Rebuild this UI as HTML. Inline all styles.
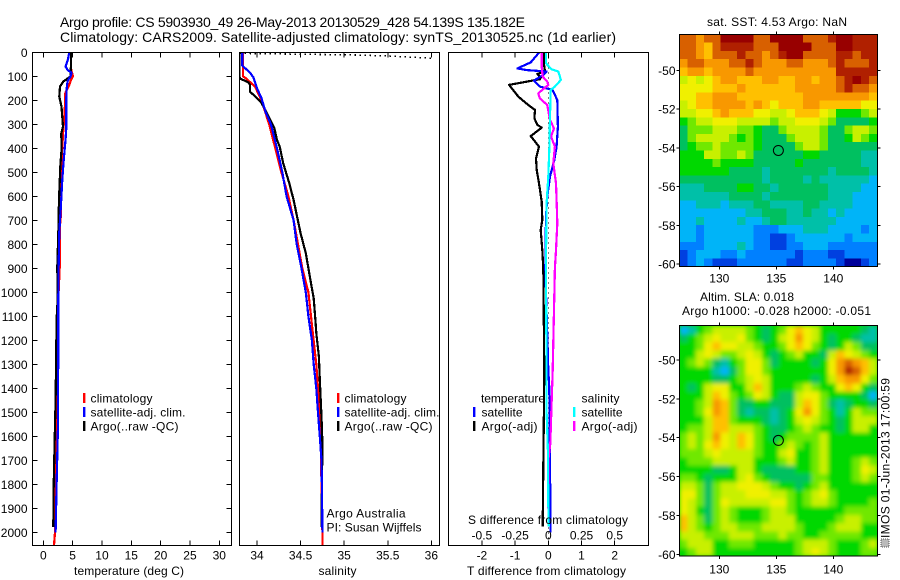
<!DOCTYPE html>
<html lang="en">
<head>
<meta charset="utf-8">
<title>Argo profile 5903930_49</title>
<style>
html,body{margin:0;padding:0;background:#fff;width:900px;height:580px;overflow:hidden}
svg{display:block}
text{font-family:"Liberation Sans",sans-serif;font-size:12px;fill:#000}
</style>
</head>
<body>
<svg id="fig" xmlns="http://www.w3.org/2000/svg" width="900" height="580" viewBox="0 0 900 580">
  <defs>
    <clipPath id="clipMap1"><rect x="679.3" y="34.3" width="198" height="232.4"/></clipPath>
    <clipPath id="clipMap2"><rect x="679.3" y="325.7" width="198" height="230.3"/></clipPath>
    <clipPath id="clipP1"><rect x="32.3" y="52.3" width="199" height="493"/></clipPath>
    <clipPath id="clipP2"><rect x="239.3" y="52.3" width="200" height="493"/></clipPath>
    <clipPath id="clipP3"><rect x="448.3" y="52.3" width="200" height="493"/></clipPath>
    <filter id="soft" filterUnits="userSpaceOnUse" x="640" y="290" width="260" height="290"><feGaussianBlur stdDeviation="2"/></filter>
  </defs>

  <text x="60" y="27" font-size="14" style="font-size:14px" textLength="465" lengthAdjust="spacing">Argo profile: CS 5903930_49 26-May-2013 20130529_428 54.139S 135.182E</text>
  <text x="60" y="42" style="font-size:14px" textLength="556" lengthAdjust="spacing">Climatology: CARS2009. Satellite-adjusted climatology: synTS_20130525.nc (1d earlier)</text>

  <g id="map1" clip-path="url(#clipMap1)"></g>
  <g clip-path="url(#clipMap2)">
    <rect x="679.3" y="325.7" width="198" height="230.3" fill="#00d800"/>
    <g id="map2" filter="url(#soft)"></g>
  </g>

  <g id="p1" clip-path="url(#clipP1)"></g>
  <g id="p2" clip-path="url(#clipP2)"></g>
  <g id="p3" clip-path="url(#clipP3)"></g>
  <g id="axes"></g>

  <g>
    <rect x="83" y="393" width="2.4" height="10" fill="#f00"/>
    <text x="90.5" y="402.5" textLength="62">climatology</text>
    <rect x="83" y="407" width="2.4" height="10" fill="#00f"/>
    <text x="90.5" y="416.5" textLength="95">satellite-adj. clim.</text>
    <rect x="83" y="421" width="2.4" height="10" fill="#000"/>
    <text x="90.5" y="430.5" textLength="88">Argo(..raw -QC)</text>
  </g>
  <g>
    <rect x="337" y="393" width="2.4" height="10" fill="#f00"/>
    <text x="344.5" y="402.5" textLength="62">climatology</text>
    <rect x="337" y="407" width="2.4" height="10" fill="#00f"/>
    <text x="344.5" y="416.5" textLength="95">satellite-adj. clim.</text>
    <rect x="337" y="421" width="2.4" height="10" fill="#000"/>
    <text x="344.5" y="430.5" textLength="88">Argo(..raw -QC)</text>
  </g>
  <text x="326.5" y="517.5" textLength="79">Argo Australia</text>
  <text x="326.5" y="531.5" textLength="95">PI: Susan Wijffels</text>

  <g>
    <text x="481" y="402.5" textLength="64">temperature</text>
    <rect x="473" y="407" width="2.4" height="10" fill="#00f"/>
    <text x="481.5" y="416.5" textLength="41">satellite</text>
    <rect x="473" y="421" width="2.4" height="10" fill="#000"/>
    <text x="481.5" y="430.5" textLength="56">Argo(-adj)</text>
    <text x="581.5" y="402.5" textLength="38">salinity</text>
    <rect x="573" y="407" width="2.4" height="10" fill="#0ff"/>
    <text x="581.5" y="416.5" textLength="41">satellite</text>
    <rect x="573" y="421" width="2.4" height="10" fill="#f0f"/>
    <text x="581.5" y="430.5" textLength="56">Argo(-adj)</text>
  </g>

  <text x="468" y="524" textLength="160">S difference from climatology</text>
  <text x="74" y="575" textLength="110">temperature (deg C)</text>
  <text x="318.5" y="575" textLength="38">salinity</text>
  <text x="467" y="575" textLength="159">T difference from climatology</text>

  <text x="707" y="26" textLength="140">sat. SST: 4.53 Argo: NaN</text>
  <text x="700" y="301" textLength="94">Altim. SLA: 0.018</text>
  <text x="682" y="315" textLength="189">Argo h1000: -0.028 h2000: -0.051</text>

  <rect x="881" y="539" width="8" height="8" fill="#bbb" stroke="#555" stroke-width="1" stroke-dasharray="1 1"/>
  <text transform="translate(889.5,538) rotate(-90)" x="0" y="0" textLength="160">IMOS 01-Jun-2013 17:00:59</text>
</svg>

<script>
// ---------- profile data (depth in m; values in axis units) ----------
const tempClimDepth = [0,60,75,100,115,140,170,250,330,400,500,680,720,870,1000,1100,1400,1700,2000,2054];
const tempClimValue = [4.7,4.7,4.77,5.06,4.7,4.37,3.75,3.64,3.4,3.22,3.0,3.0,2.84,2.84,2.6,2.56,2.45,2.2,2.0,1.82];
const tempArgoDepth = [0,100,122,143,185,226,310,337,407,476,615,754,893,1032,1115,1449,1628,1824,1978];
const tempArgoValue = [4.77,4.66,3.4,2.84,2.73,3.1,3.35,3.07,3.1,2.9,2.67,2.56,2.39,2.44,2.27,2.1,1.93,1.76,1.7];
const tempSatDepth = [0,30,60,75,85,100,120,150,200,320,360,450,530,640,750,900,1030,1115,1550,1800,2000];
const tempSatValue = [4.43,4.2,3.8,4.2,4.83,4.66,4.15,3.98,3.9,3.9,3.8,3.47,3.24,3.0,2.73,2.6,2.56,2.56,2.5,2.27,2.1];

const salClimDepth = [0,100,110,145,200,300,400,500,600,700,800,900,1000,1100,1300,1400,1600,2000,2054];
const salClimValue = [33.84,33.84,33.88,33.98,34.05,34.14,34.21,34.28,34.36,34.42,34.47,34.52,34.59,34.62,34.68,34.7,34.73,34.75,34.75];
const salArgoDepth = [0,105,110,125,135,165,180,210,280,317,365,393,462,546,615,685,754,837,962,1025,1115,1170,1268,1365,1519,1628,1978];
const salArgoValue = [33.8,33.8,33.81,33.9,33.92,33.92,33.97,34.05,34.15,34.2,34.23,34.26,34.3,34.37,34.42,34.46,34.5,34.56,34.62,34.65,34.67,34.68,34.71,34.72,34.74,34.75,34.74];
const salSatDepth = [0,55,65,85,105,150,190,250,300,400,500,600,700,800,900,1000,1100,1200,1300,1400,1500,1600,1700,1800,2000];
const salSatValue = [33.83,33.83,33.86,33.92,33.96,34.0,34.05,34.1,34.16,34.23,34.29,34.34,34.42,34.455,34.51,34.56,34.59,34.63,34.65,34.68,34.7,34.72,34.74,34.745,34.75];
const salDotDepth = [4,8,11,15,25];
const salDotValue = [33.8,34.49,35.07,35.49,36.02];

const diffTArgoDepth = [0,50,80,90,105,112,136,185,220,240,275,302,314,349,393,442,490,546,622,699,740,824,900,1324,1463,1726,1976];
const diffTArgoValue = [-0.13,-0.13,-0.1,-0.33,-0.23,-0.25,-1.18,-0.9,-0.6,-0.4,-0.42,-0.33,-0.2,-0.53,-0.28,-0.37,-0.35,-0.28,-0.2,-0.18,-0.23,-0.18,-0.15,-0.12,-0.13,-0.15,-0.17];
const diffTSatDepth = [0,42,67,74,80,94,118,143,157,199,310,393,449,518,601,685,900,1324,1400,2000];
const diffTSatValue = [-0.27,-0.53,-0.93,-0.65,-0.05,-0.15,-0.43,-0.25,0.13,0.27,0.29,0.25,0.18,0.05,-0.03,-0.07,-0.09,0,0.03,0.07];
const diffSArgoDepth = [0,60,101,122,136,171,192,219,282,317,351,393,463,546,629,713,824,900,1324,1463,1630,1700,1900];
const diffSArgoValue = [-0.05,-0.05,-0.043,-0.008,0,-0.075,-0.063,-0.008,0.013,0.043,0.02,0.05,0.038,0.058,0.063,0.068,0.058,0.05,0.033,0.025,0.015,0,0];
const diffSSatDepth = [0,46,71,80,115,143,157,268,393,518,629,900,1324,1500,1660,1880,1976];
const diffSSatValue = [-0.018,-0.018,0.025,0.075,0.095,0.05,0.018,0.013,0.008,0,-0.013,-0.018,-0.013,-0.013,-0.003,0,0.003];

// ---------- tick labels ----------
const depthTicks = [0,100,200,300,400,500,600,700,800,900,1000,1100,1200,1300,1400,1500,1600,1700,1800,1900,2000];
const tempTicks = [0,5,10,15,20,25,30];
const salTicks = [34,34.5,35,35.5,36];
const diffTTicks = [-2,-1,0,1,2];
const diffSTicks = [-0.5,-0.25,0,0.25,0.5];
const diffSLabels = ['-0.5','-0.25','0','0.25','0.5'];
const lonTicks = [130,135,140];
const latTicks = [-50,-52,-54,-56,-58,-60];
const argoLon = [135.182];
const argoLat = [-54.139];

// ---------- heatmap level colours ----------
const levelColors = ['#00009a','#0040e0','#0080ff','#00b4f8','#00c0a8','#00c060','#00d800','#70e800','#c8f000','#f0f000','#ffc000','#f89800','#d86000','#b02000','#980000'];

// ---------- SST map levels (rows north to south) ----------
const sstRows = [
[12,12,11,12,12,14,14,14,14,12,12,14,14,14,14,12,12,12,13,14,14,13,13,13],
[12,12,11,10,12,13,13,13,13,12,12,12,14,14,14,14,12,12,12,14,14,13,13,13],
[12,12,11,10,12,12,12,13,12,12,11,12,13,14,14,12,12,12,12,13,13,12,13,13],
[11,12,12,11,11,11,12,12,13,12,11,11,11,12,12,11,11,11,12,13,12,12,12,13],
[10,11,11,10,11,11,11,11,12,11,11,11,11,11,11,11,11,11,11,13,13,13,13,13],
[8,9,8,9,10,11,11,10,10,10,11,11,10,10,11,11,10,11,11,12,13,14,13,12],
[9,9,9,9,10,10,10,11,10,10,10,10,10,10,11,11,11,11,11,12,13,12,12,11],
[9,9,10,10,11,11,11,10,10,10,10,10,10,10,10,11,11,11,11,11,11,11,11,10],
[8,9,10,10,11,11,11,11,10,11,10,9,10,10,10,11,11,10,10,10,10,10,9,9],
[8,8,9,9,10,11,10,10,10,9,9,8,8,9,10,10,10,9,8,6,6,6,7,8],
[6,7,8,8,9,9,9,8,8,8,8,7,8,8,9,9,9,8,7,5,5,5,5,6],
[5,7,7,7,8,8,8,7,7,6,5,5,7,8,8,8,8,7,5,5,7,8,8,7],
[5,7,8,8,8,8,7,6,7,6,5,5,5,7,8,8,8,7,5,5,6,8,7,6],
[5,6,7,7,8,7,7,7,7,6,5,5,5,5,7,8,8,7,5,5,5,5,5,5],
[6,6,6,8,8,7,7,8,7,5,5,5,5,5,5,6,6,5,5,5,5,5,4,4],
[6,6,6,6,7,6,6,6,6,5,5,5,5,5,6,5,5,5,5,5,5,5,4,4],
[6,6,6,6,6,6,5,5,5,5,4,5,5,5,5,5,5,5,4,5,5,5,5,4],
[5,5,5,5,5,5,5,5,5,5,4,5,5,5,5,4,5,4,4,4,4,4,4,3],
[4,4,4,5,5,5,5,6,6,5,5,4,5,5,5,5,5,5,4,4,4,4,3,3],
[4,4,4,4,4,4,5,5,5,5,4,5,5,5,5,5,5,5,4,4,4,3,3,3],
[3,3,4,4,4,3,4,4,4,5,5,4,4,4,4,5,5,4,4,4,4,3,3,3],
[3,3,3,3,3,3,3,3,4,4,5,5,5,4,4,5,4,4,3,4,3,3,3,3],
[3,3,4,3,3,3,3,4,3,3,4,5,5,4,4,4,4,4,4,3,3,3,3,3],
[3,3,2,3,3,3,3,3,3,2,2,2,3,3,3,4,4,4,3,3,3,3,2,3],
[3,3,2,3,3,3,3,3,3,2,2,1,1,2,3,3,3,3,3,3,2,3,3,3],
[2,2,2,3,3,3,3,4,3,2,2,1,1,2,2,3,3,3,2,2,2,2,2,2],
[1,2,3,3,3,2,2,3,2,2,2,2,2,2,1,2,2,2,1,1,2,2,2,2],
[1,2,3,2,1,1,1,2,2,2,2,2,2,1,1,2,2,2,2,1,0,0,1,2]
];

// ---------- SLA map levels (rows north to south) ----------
const slaRows = [
[3,4,6,7,8,8,8,8,7,6,5,6,7,9,10,9,8,6,6,6,6,6,5,4],
[5,6,7,8,9,8,8,9,7,6,5,6,8,9,11,9,8,6,5,6,6,5,4,4],
[6,6,7,9,10,9,9,8,8,7,6,6,7,9,10,9,7,6,5,6,8,7,5,5],
[6,6,8,9,8,7,7,8,9,8,6,5,6,7,8,6,6,5,8,10,9,8,7,6],
[6,7,8,7,5,4,6,7,9,9,7,5,6,6,6,6,5,6,9,11,12,11,10,8],
[6,6,6,6,4,3,5,7,9,9,7,6,6,6,6,6,6,6,9,11,13,12,10,8],
[6,6,6,6,5,5,6,7,8,9,8,6,6,6,6,6,5,6,8,10,11,11,9,7],
[6,5,6,8,9,9,6,6,8,10,8,6,6,6,7,8,7,6,6,9,10,9,6,5],
[6,6,6,8,10,9,7,6,7,9,8,6,5,5,8,9,9,7,6,6,6,6,5,3],
[6,6,7,8,11,10,7,5,5,6,6,5,5,5,8,10,9,7,5,4,5,6,6,5],
[6,6,7,9,11,10,7,5,4,5,5,4,5,6,9,11,9,7,6,4,6,8,7,7],
[6,6,6,8,10,10,7,6,6,6,5,4,5,6,8,9,8,7,6,5,6,8,8,8],
[6,7,7,8,10,10,8,8,8,7,6,5,5,6,7,8,7,6,6,5,6,8,8,6],
[7,8,7,8,11,9,8,10,9,7,6,5,6,7,7,7,7,8,6,6,6,6,6,6],
[7,8,7,9,10,9,8,10,9,7,6,6,7,8,7,6,7,8,6,6,6,6,6,6],
[7,7,7,8,9,8,8,8,8,7,6,6,8,9,6,6,7,8,6,6,6,6,6,6],
[6,7,7,7,8,8,8,8,8,6,6,6,7,8,6,6,7,8,6,6,6,7,8,7],
[6,6,6,6,5,5,6,8,8,6,5,5,5,5,6,6,7,8,6,6,6,7,9,8],
[7,7,6,5,6,6,6,8,9,7,6,5,5,5,5,5,7,7,6,6,6,7,8,7],
[8,8,7,5,7,8,8,9,9,9,8,7,6,6,5,6,7,8,6,6,6,6,6,6],
[9,9,7,5,7,8,8,8,9,9,9,8,8,7,6,7,8,9,7,6,6,6,6,6],
[9,8,7,5,7,9,8,8,8,8,8,9,9,7,6,7,8,8,7,6,6,6,6,7],
[9,8,6,5,7,8,7,6,6,6,7,8,8,7,6,6,6,6,6,6,7,7,7,7],
[10,8,7,5,7,8,7,6,6,6,7,8,8,8,6,6,6,6,6,7,8,8,7,7],
[10,8,7,6,7,8,8,7,7,7,8,8,8,8,7,6,6,6,7,8,8,8,6,6],
[8,8,8,7,7,7,8,8,8,7,7,7,8,7,7,6,6,7,7,7,7,7,6,6],
[7,8,8,8,6,6,7,7,7,6,6,6,6,6,7,8,8,8,7,6,6,6,7,8],
[6,7,8,8,6,6,6,6,6,6,6,6,6,6,7,8,9,8,7,6,6,6,7,7]
];

// ---------- axis functions ----------
const NS = 'http://www.w3.org/2000/svg';
const PANEL_TOP = 52.3, PANEL_BOTTOM = 545.3;
function yDepth(d){ return PANEL_TOP + d * 0.24; }
function xTemp(t){ return 43.3 + t * 5.867; }
function xSal(s){ return 257 + (s - 34) * 87.17; }
function xDiffT(t){ return 548.3 + t * 33.2; }
function xDiffS(s){ return xDiffT(s * 4); }
function xLon(lon){ return 719.3 + (lon - 130) * 11.4; }
function yLat1(lat){ return 70.3 + (-50 - lat) * 19.37; }
function yLat2(lat){ return 360 + (-50 - lat) * 19.43; }

function add(parent, tag, attrs, name){
  const el = document.createElementNS(NS, tag);
  for (const k in attrs) el.setAttribute(k, attrs[k]);
  
  
  parent.appendChild(el);
  return el;
}
function drawSeries(parent, depths, values, xf, color, name, width){
  const pts = depths.map((d, i) => xf(values[i]).toFixed(1) + ',' + yDepth(d).toFixed(1)).join(' ');
  return add(parent, 'polyline', {points: pts, fill: 'none', stroke: color, 'stroke-width': width || 2.2, 'shape-rendering': 'crispEdges', 'stroke-linejoin': 'round'}, name);
}
function tick(x1, y1, x2, y2, name){
  add(axesG, 'line', {x1: x1, y1: y1, x2: x2, y2: y2, stroke: '#000', 'stroke-width': 1, 'shape-rendering': 'crispEdges'}, name);
}
function label(x, y, str, anchor, name){
  const t = add(axesG, 'text', {x: x, y: y, 'text-anchor': anchor}, name);
  t.textContent = str;
}
function frame(x, y, w, h, name){
  add(axesG, 'rect', {x: x, y: y, width: w, height: h, fill: 'none', stroke: '#000', 'stroke-width': 1, 'shape-rendering': 'crispEdges'}, name);
}
function drawHeat(parent, rows, top, height, name){
  const nr = rows.length, nc = rows[0].length;
  const lonStart = 126.5, lonStep = (143.87 - 126.5) / nc;
  const cellH = height / nr;
  rows.forEach((row, r) => row.forEach((v, c) => {
    const x0 = xLon(lonStart + c * lonStep), x1 = xLon(lonStart + (c + 1) * lonStep);
    add(parent, 'rect', {x: x0.toFixed(2), y: (top + r * cellH).toFixed(2), width: (x1 - x0 + 0.4).toFixed(2), height: (cellH + 0.4).toFixed(2), fill: levelColors[Math.max(0, Math.min(levelColors.length - 1, Math.round(v)))], 'shape-rendering': 'crispEdges'}, name);
  }));
}

const axesG = document.getElementById('axes');
const p1 = document.getElementById('p1');
const p2 = document.getElementById('p2');
const p3 = document.getElementById('p3');

// maps
drawHeat(document.getElementById('map1'), sstRows, 34.3, 232.4, 'sst-cell');
drawHeat(document.getElementById('map2'), slaRows, 325.7, 230.3, 'sla-cell');

// temperature panel
drawSeries(p1, tempClimDepth, tempClimValue, xTemp, '#f00', 'temperature-climatology-line');
drawSeries(p1, tempArgoDepth, tempArgoValue, xTemp, '#000', 'temperature-argo-line');
drawSeries(p1, tempSatDepth, tempSatValue, xTemp, '#00f', 'temperature-satellite-line');

// salinity panel
drawSeries(p2, salClimDepth, salClimValue, xSal, '#f00', 'salinity-climatology-line');
drawSeries(p2, salArgoDepth, salArgoValue, xSal, '#000', 'salinity-argo-line');
drawSeries(p2, salSatDepth, salSatValue, xSal, '#00f', 'salinity-satellite-line');
const dots = drawSeries(p2, salDotDepth, salDotValue, xSal, '#000', 'salinity-dotted-line', 1.6);
dots.setAttribute('stroke-dasharray', '1.5 3.5');

// difference panel
const zeroLine = add(p3, 'line', {x1: xDiffT(0), y1: PANEL_TOP, x2: xDiffT(0), y2: PANEL_BOTTOM, stroke: '#000', 'stroke-width': 1, 'stroke-dasharray': '1 4', 'shape-rendering': 'crispEdges'}, 'zero-difference-line');
drawSeries(p3, diffTArgoDepth, diffTArgoValue, xDiffT, '#000', 'difference-t-argo-line');
drawSeries(p3, diffTSatDepth, diffTSatValue, xDiffT, '#00f', 'difference-t-satellite-line');
drawSeries(p3, diffSArgoDepth, diffSArgoValue, xDiffS, '#f0f', 'difference-s-argo-line');
drawSeries(p3, diffSSatDepth, diffSSatValue, xDiffS, '#0ff', 'difference-s-satellite-line');

// profile axes
frame(32.3, PANEL_TOP, 199, 493, 'temperature-panel-frame');
frame(239.3, PANEL_TOP, 200, 493, 'salinity-panel-frame');
frame(448.3, PANEL_TOP, 200, 493, 'difference-panel-frame');

depthTicks.forEach(d => {
  const y = yDepth(d);
  tick(32.3, y, 37.3, y, 'depth-tick');
  tick(231.3, y, 226.3, y, 'depth-tick');
  label(27.5, y + 4.5, String(d), 'end', 'depth-tick-label');
});
tempTicks.forEach(t => {
  const x = xTemp(t);
  tick(x, PANEL_BOTTOM, x, PANEL_BOTTOM - 5, 'temperature-tick');
  tick(x, PANEL_TOP, x, PANEL_TOP + 5, 'temperature-tick');
  label(x, 559.5, String(t), 'middle', 'temperature-tick-label');
});
salTicks.forEach(s => {
  const x = xSal(s);
  tick(x, PANEL_BOTTOM, x, PANEL_BOTTOM - 5, 'salinity-tick');
  tick(x, PANEL_TOP, x, PANEL_TOP + 5, 'salinity-tick');
  label(x, 559.5, String(s), 'middle', 'salinity-tick-label');
});
diffTTicks.forEach(t => {
  const x = xDiffT(t);
  tick(x, PANEL_BOTTOM, x, PANEL_BOTTOM - 5, 'difference-tick');
  tick(x, PANEL_TOP, x, PANEL_TOP + 5, 'difference-tick');
  label(x, 559.5, String(t), 'middle', 'difference-t-tick-label');
});
diffSTicks.forEach((s, i) => {
  label(xDiffS(s), 539.5, diffSLabels[i], 'middle', 'difference-s-tick-label');
});

// map axes
function mapAxes(top, bottom, yLat, labelY, name){
  frame(679.3, top, 198, bottom - top, name + '-frame');
  lonTicks.forEach(lon => {
    const x = xLon(lon);
    tick(x, top, x, top - 3, name + '-lon-tick');
    tick(x, bottom, x, bottom + 3, name + '-lon-tick');
    label(x, labelY, String(lon), 'middle', name + '-lon-label');
  });
  latTicks.forEach(lat => {
    const y = yLat(lat);
    tick(679.3, y, 676.3, y, name + '-lat-tick');
    tick(877.3, y, 880.3, y, name + '-lat-tick');
    label(675.5, y + 4.5, String(lat), 'end', name + '-lat-label');
  });
  add(axesG, 'circle', {cx: xLon(argoLon[0]), cy: yLat(argoLat[0]), r: 5, fill: 'none', stroke: '#000', 'stroke-width': 1}, name + '-argo-position');
}
mapAxes(34.3, 266.7, yLat1, 282.5, 'sst-map');
mapAxes(325.7, 556, yLat2, 573.5, 'sla-map');
</script>
</body>
</html>
